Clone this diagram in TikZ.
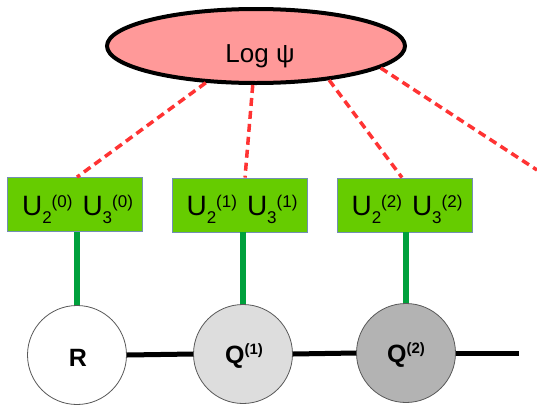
\documentclass[tikz,border=0pt]{standalone}
\usepackage{fontspec}
\setmainfont{Liberation Sans}
\usetikzlibrary{shapes.geometric}
\definecolor{pinkfill}{RGB}{255,153,153}
\definecolor{boxgreen}{RGB}{102,204,0}
\definecolor{boxedge}{RGB}{114,143,180}
\definecolor{linkgreen}{RGB}{0,160,60}
\definecolor{dashred}{RGB}{255,51,51}
\definecolor{qlight}{RGB}{221,221,221}
\definecolor{qdark}{RGB}{179,179,179}
\newcommand{\Usubsup}[2]{U\raisebox{-8pt}{\fontsize{17}{17}\selectfont #1}\raisebox{8pt}{\fontsize{17}{17}\selectfont (#2)}}
\newcommand{\Qsupr}[1]{Q\raisebox{9pt}{\fontsize{15}{15}\selectfont\bfseries (#1)}}
\begin{document}
\begin{tikzpicture}[x=1pt,y=-1pt,
  logell/.style={ellipse, draw=black, line width=4pt, fill=pinkfill, minimum width=298pt, minimum height=74pt, inner sep=0pt},
  ubox/.style={rectangle, draw=boxedge, line width=0.8pt, fill=boxgreen, minimum width=135pt, minimum height=54pt, inner sep=0pt},
  utext/.style={font=\fontsize{28}{30}\selectfont, anchor=base, inner sep=0pt},
  site/.style={circle, draw=black!65, line width=0.8pt, minimum size=99pt, inner sep=0pt},
  stext/.style={font=\fontsize{25}{28}\selectfont\bfseries, anchor=base, inner sep=0pt},
  redlink/.style={draw=dashred, line width=3.5pt, dash pattern=on 8pt off 5pt},
  greenlink/.style={draw=linkgreen, line width=6pt},
  chainlink/.style={draw=black, line width=5pt}]
\useasboundingbox (0,0) rectangle (537,407);
% ellipse
\node[logell] (E) at (256,46) {};
\node[font=\fontsize{26}{28}\selectfont, anchor=base, inner sep=0pt] (El) at (260,62) {Log ψ};
% boxes
\node[ubox] (b0) at (74.5,204.5) {};
\node[ubox] (b1) at (240,205) {};
\node[ubox] (b2) at (405,205) {};
\node[utext] (t0) at (77.5,215) {\Usubsup{2}{0}\hspace{10pt}\Usubsup{3}{0}};
\node[utext] (t1) at (242,215) {\Usubsup{2}{1}\hspace{10pt}\Usubsup{3}{1}};
\node[utext] (t2) at (407,215) {\Usubsup{2}{2}\hspace{10pt}\Usubsup{3}{2}};
% circles
\node[site, fill=white] (c0) at (77,355) {};
\node[site, fill=qlight] (c1) at (243,354) {};
\node[site, fill=qdark] (c2) at (406,353) {};
\node[stext] (l0) at (78,366) {R};
\node[stext] (l1) at (244,363) {\Qsupr{1}};
\node[stext] (l2) at (406,362) {\Qsupr{2}};
\coordinate (tail) at (519,355);
\coordinate (off) at (537,170);
% connectors
\draw[chainlink] (c0.east) -- (c1.west);
\draw[chainlink] (c1.east) -- (c2.west);
\draw[chainlink] (c2.east) -- (c2.east -| tail);
\draw[greenlink] (c0.north) -- (c0.north |- b0.south);
\draw[greenlink] (c1.north) -- (c1.north |- b1.south);
\draw[greenlink] (c2.north) -- (c2.north |- b2.south);
\draw[redlink] (E) -- (c0.north |- b0.north);
\draw[redlink] (E) -- ([xshift=2pt]c1.north |- b1.north);
\draw[redlink] (E.-25) -- ([xshift=-3pt]b2.north);
\draw[redlink] (E.-10) -- (off);
\end{tikzpicture}
\end{document}
